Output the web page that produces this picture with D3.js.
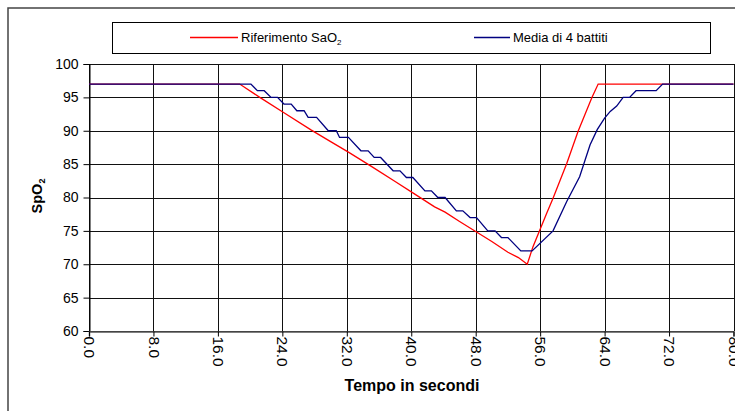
<!DOCTYPE html>
<html><head><meta charset="utf-8">
<script src="https://cdn.jsdelivr.net/npm/d3@7"></script>
<style>
html,body{margin:0;padding:0;background:#fff;}
svg{display:block;font-family:"Liberation Sans",Arial,sans-serif;}
</style></head>
<body>
<svg id="chart" width="735" height="411"></svg>
<script>
// ---- data ----
const refTime  = [0, 18.7, 21.2, 24.2, 27.6, 30.1, 32.2, 35, 38, 40.2, 42.9, 44.2, 46, 48, 50, 52, 53.3, 54.4, 55.1, 56.8, 57.6, 59.3, 60.7, 62.4, 63.2, 80];
const refSaO2  = [97, 97, 95.0, 92.7, 90.1, 88.3, 86.8, 84.7, 82.4, 80.7, 78.6, 77.8, 76.4, 74.9, 73.4, 71.8, 71.0, 70, 72.6, 77.6, 79.9, 85.1, 89.9, 94.9, 97, 97];
const avgTime  = [0, 20.1, 20.9, 21.75, 22.6, 23.4, 24.2, 25.1, 25.8, 26.7, 27.2, 28.25, 29.7, 30.7, 31.1, 32.2, 33.75, 34.65, 35.4, 36.2, 37.75, 38.6, 39.4, 40.2, 41.7, 42.5, 43.3, 44.2, 45.6, 46.4, 47.3, 48.1, 49.5, 50.4, 51.2, 52.0, 53.6, 55.0, 57.6, 59.3, 60.9, 61.6, 62.2, 63.1, 64.0, 64.7, 65.5, 66.3, 67.1, 67.9, 70.4, 71.2, 80];
const avgSpO2  = [97, 97, 96, 96, 95, 95, 94, 94, 93, 93, 92, 92, 90, 90, 89, 89, 87, 87, 86, 86, 84, 84, 83, 83, 81, 81, 80, 80, 78, 78, 77, 77, 75, 75, 74, 74, 72, 72, 75, 79.4, 83.1, 85.7, 87.9, 90.2, 91.9, 92.9, 93.7, 95, 95, 96, 96, 97, 97];
const xTicks = [0, 8, 16, 24, 32, 40, 48, 56, 64, 72, 80];
const yTicks = [60, 65, 70, 75, 80, 85, 90, 95, 100];
const seriesNames = ["Riferimento SaO", "Media di 4 battiti"];
const seriesColors = ["#ff0000", "#000080"];

const svg = d3.select("#chart");
const x = d3.scaleLinear().domain([0, 80]).range([89, 733.5]);
const y = d3.scaleLinear().domain([60, 100]).range([331, 64]);

// outer frame
svg.append("rect").attr("x", 8).attr("y", 8).attr("width", 760).attr("height", 440)
  .attr("fill", "none").attr("stroke", "#444").attr("stroke-width", 1.5);

// legend
const lg = svg.append("g");
lg.append("rect").attr("x", 112.5).attr("y", 22.5).attr("width", 598).attr("height", 31)
  .attr("fill", "#fff").attr("stroke", "#000").attr("stroke-width", 1);
const legX = [190, 474];
seriesNames.forEach((n, i) => {
  lg.append("line").attr("x1", legX[i]).attr("x2", legX[i] + (i === 0 ? 48 : 36))
    .attr("y1", 37.5).attr("y2", 37.5).attr("stroke", seriesColors[i]).attr("stroke-width", 1.3);
  const t = lg.append("text").attr("x", legX[i] + (i === 0 ? 51 : 39)).attr("y", 42)
    .attr("font-size", 13).attr("fill", "#000").text(n);
  if (i === 0) t.append("tspan").attr("font-size", 8).attr("dy", 3).text("2");
});

// grid
const grid = svg.append("g").attr("stroke", "#111").attr("stroke-width", 1).attr("shape-rendering", "crispEdges");
grid.selectAll("line.v").data(xTicks).join("line")
  .attr("x1", d => Math.round(x(d)) + 0.5).attr("x2", d => Math.round(x(d)) + 0.5)
  .attr("y1", y(100)).attr("y2", y(60));
grid.selectAll("line.h").data(yTicks).join("line")
  .attr("x1", x(0)).attr("x2", x(80))
  .attr("y1", d => Math.round(y(d)) + 0.5).attr("y2", d => Math.round(y(d)) + 0.5);

// axes
const yAxis = d3.axisLeft(y).tickValues(yTicks).tickSize(6).tickPadding(5).tickFormat(d3.format("d"));
const ga = svg.append("g").attr("transform", `translate(${Math.round(x(0)) + 0.5},0)`).call(yAxis);
ga.select(".domain").attr("stroke", "#000");
ga.selectAll("text").attr("font-size", 14).attr("fill", "#000").attr("font-family", "Liberation Sans, Arial, sans-serif");

const xAxis = d3.axisBottom(x).tickValues(xTicks).tickSize(5).tickFormat(d3.format(".1f"));
const gx = svg.append("g").attr("transform", `translate(0,${Math.round(y(60)) + 0.5})`).call(xAxis);
gx.select(".domain").attr("stroke", "#555").attr("stroke-width", 1.5);
gx.selectAll(".tick text")
  .attr("font-size", 15.5).attr("fill", "#000").attr("font-family", "Liberation Sans, Arial, sans-serif")
  .attr("text-anchor", "start").attr("transform", "rotate(90)")
  .attr("x", 5).attr("y", 0).attr("dy", "0.35em");

// titles
svg.append("text").attr("x", 412).attr("y", 391).attr("text-anchor", "middle")
  .attr("font-size", 16).attr("font-weight", "bold").text("Tempo in secondi");
const yt = svg.append("text").attr("transform", "translate(42,196) rotate(-90)").attr("text-anchor", "middle")
  .attr("font-size", 14.5).attr("font-weight", "bold").text("SpO");
yt.append("tspan").attr("font-size", 9).attr("dy", 3).text("2");

// lines
const line = d3.line().x(d => x(d[0])).y(d => y(d[1]));
svg.append("path").datum(refTime.map((t, i) => [t, refSaO2[i]]))
  .attr("d", line).attr("fill", "none").attr("stroke", seriesColors[0]).attr("stroke-width", 1.3);
svg.append("path").datum(avgTime.map((t, i) => [t, avgSpO2[i]]))
  .attr("d", line).attr("fill", "none").attr("stroke", seriesColors[1]).attr("stroke-width", 1.3);
</script>
</body></html>
